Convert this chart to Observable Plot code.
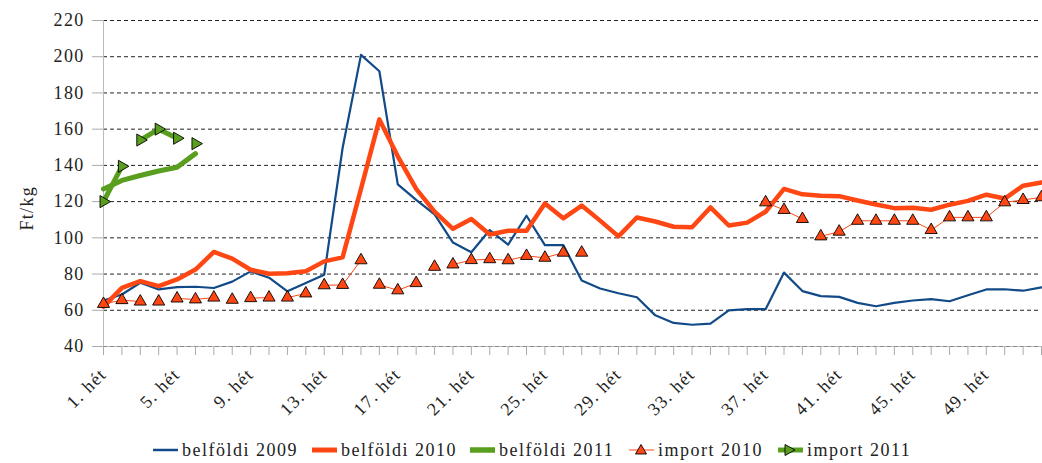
<!DOCTYPE html>
<html>
<head>
<meta charset="utf-8">
<script src="https://cdn.jsdelivr.net/npm/d3@7"></script>
<script src="https://cdn.jsdelivr.net/npm/@observablehq/plot@0.6"></script>
<style>
  body { margin: 0; background: #fff; }
  #chart { width: 1042px; height: 435px; }
  #chart svg, #chart svg text {
    font-family: "Liberation Serif", "Times New Roman", serif !important;
    font-size: 18px !important; letter-spacing: 1.3px;
  }
  #legend {
    position: relative; height: 30px;
    font-family: "Liberation Serif", "Times New Roman", serif; font-size: 18px; letter-spacing: 1.5px; color: #222;
  }
  .item { position: absolute; top: 0; height: 30px; display: flex; align-items: center; white-space: nowrap; }
  .item svg { margin-right: 4px; }
</style>
</head>
<body>
<div id="chart"></div>
<div id="legend"></div>
<script>
// ---- data ----
const weeks = d3.range(1, 53);
const weekLabels = [1, 5, 9, 13, 17, 21, 25, 29, 33, 37, 41, 45, 49];
const yTicks = [40, 60, 80, 100, 120, 140, 160, 180, 200, 220];

const belfoldi2009 = [65.4, 68.7, 75.2, 71.5, 72.8, 73.0, 72.3, 75.8, 81.5, 78.0,
  70.5, 75.0, 79.6, 149.6, 201.0, 192.0, 129.5, 121.0, 113.0, 97.4,
  92.0, 104.3, 96.2, 112.2, 96.0, 96.0, 76.5, 72.0, 69.4, 67.2,
  57.2, 53.0, 52.0, 52.6, 60.0, 60.6, 60.6, 80.8, 70.6, 67.8,
  67.4, 64.1, 62.2, 64.1, 65.4, 66.2, 65.0, 68.3, 71.5, 71.6,
  70.8, 72.6];

const belfoldi2010 = [62.0, 72.4, 76.1, 73.3, 77.0, 82.5, 92.2, 88.5, 82.4, 80.2,
  80.4, 81.5, 87.0, 89.2, 127.0, 165.4, 145.0, 127.0, 114.5, 105.0,
  110.4, 101.8, 103.9, 103.9, 119.0, 110.8, 117.8, 109.5, 100.8, 111.2,
  109.0, 106.1, 105.8, 116.8, 106.8, 108.4, 114.4, 127.0, 124.0, 123.2,
  123.0, 120.6, 118.4, 116.4, 116.6, 115.5, 118.3, 120.4, 123.8, 121.7,
  128.8, 130.6];

const belfoldi2011 = [127.0, 131.7, 134.4, 136.9, 139.0, 146.5];

const import2010 = [63.5, 65.6, 64.8, 64.8, 66.5, 66.0, 67.0, 65.8, 66.7, 67.0,
  67.0, 69.3, 73.8, 74.0, 87.6, 74.1, 71.0, 75.0, 84.0, 85.3,
  87.7, 88.2, 87.6, 90.0, 89.0, 91.8, 91.8, null, null, null,
  null, null, null, null, null, null, 119.6, 115.4, 110.4, 100.8,
  103.4, 109.4, 109.4, 109.4, 109.4, 104.3, 111.3, 111.3, 111.3, 119.6,
  120.9, 122.4];

const import2011 = [120.0, 139.5, 154.0, 160.0, 155.0, 152.0];

// weeks after which the import line segment is not drawn in the reference
const import2010Breaks = [3, 4, 7, 8, 10, 12, 15, 18, 19, 26, 39];
const import2011Breaks = [2, 5];

// ---- styles ----
const BLUE = "#114a87", ORANGE = "#ff4713", GREEN = "#5a9e1f";
const FONT = "Liberation Serif";

const toRows = arr => arr.map((v, i) => ({week: i + 1, value: v})).filter(d => d.value != null);
function segments(rows, breaks) {
  const out = [];
  for (let i = 0; i < rows.length - 1; i++) {
    const a = rows[i], b = rows[i + 1];
    if (b.week === a.week + 1 && !breaks.includes(a.week))
      out.push({x1: a.week, y1: a.value, x2: b.week, y2: b.value});
  }
  return out;
}

const r09 = toRows(belfoldi2009), r10 = toRows(belfoldi2010), r11 = toRows(belfoldi2011);
const ri10 = toRows(import2010), ri11 = toRows(import2011);

const chart = Plot.plot({
  width: 1042, height: 435,
  marginLeft: 103, marginRight: 1, marginTop: 20, marginBottom: 89,
  style: {fontFamily: FONT, fontSize: "18px", color: "#222", background: "white", overflow: "visible"},
  x: {domain: [1, 52], axis: null},
  y: {domain: [40, 220], axis: null},
  marks: [
    Plot.ruleY(yTicks.filter(d => d > 40), {stroke: "#222", strokeDasharray: "4,3", strokeWidth: 1}),
    Plot.ruleY([40], {stroke: "#bbb", strokeWidth: 1}),
    Plot.ruleY([40], {stroke: "#888", strokeDasharray: "4,3", strokeWidth: 1}),
    Plot.axisX({ticks: weeks, tickSize: 9, tickFormat: () => "", stroke: "#aaa"}),
    Plot.axisY({ticks: yTicks, tickSize: 11, tickPadding: 8, stroke: "#aaa", fill: "#222", label: null, fontFamily: FONT, fontSize: 18}),
    Plot.ruleX([1], {stroke: "#bbb"}),
    Plot.line(r09, {x: "week", y: "value", stroke: BLUE, strokeWidth: 2.2}),
    Plot.line(r10, {x: "week", y: "value", stroke: ORANGE, strokeWidth: 4.5}),
    Plot.line(r11, {x: "week", y: "value", stroke: GREEN, strokeWidth: 5}),
    Plot.link(segments(ri10, import2010Breaks), {x1: "x1", y1: "y1", x2: "x2", y2: "y2", stroke: ORANGE, strokeWidth: 1}),
    Plot.dot(ri10, {x: "week", y: "value", symbol: "triangle", r: 4.5, fill: ORANGE, stroke: "#000", strokeWidth: 0.9}),
    Plot.link(segments(ri11, import2011Breaks), {x1: "x1", y1: "y1", x2: "x2", y2: "y2", stroke: GREEN, strokeWidth: 5}),
    Plot.dot(ri11, {x: "week", y: "value", symbol: "triangle", rotate: 90, r: 4.5, fill: GREEN, stroke: "#000", strokeWidth: 0.9}),
    Plot.text(weekLabels, {x: d => d, frameAnchor: "bottom", text: d => `${d}. hét`, rotate: -45, textAnchor: "end", dx: 4, dy: 29, fill: "#222", fontFamily: FONT, fontSize: 18}),
    Plot.text(["Ft/kg"], {frameAnchor: "left", text: d => d, rotate: -90, dx: -76, dy: 47, fill: "#222", fontFamily: FONT, fontSize: 18})
  ]
});
document.getElementById("chart").appendChild(chart);

// ---- legend ----
const legendItems = [
  {label: "belföldi 2009", color: BLUE, width: 2.5, left: 153},
  {label: "belföldi 2010", color: ORANGE, width: 5, left: 312},
  {label: "belföldi 2011", color: GREEN, width: 5.5, left: 470},
  {label: "import 2010", color: ORANGE, width: 1, marker: "up", left: 629},
  {label: "import 2011", color: GREEN, width: 5, marker: "right", left: 778}
];
const legend = document.getElementById("legend");
for (const it of legendItems) {
  const div = document.createElement("div");
  div.className = "item";
  div.style.left = it.left + "px";
  let m = "";
  if (it.marker === "up") m = `<path d="M12,1.5 L17.5,11 L6.5,11 Z" fill="${it.color}" stroke="#000" stroke-width="0.9"/>`;
  if (it.marker === "right") m = `<path d="M7,1.5 L17,7 L7,12.5 Z" fill="${it.color}" stroke="#000" stroke-width="0.9"/>`;
  div.innerHTML = `<svg width="25" height="14"><line x1="0" x2="25" y1="7" y2="7" stroke="${it.color}" stroke-width="${it.width}"/>${m}</svg><span>${it.label}</span>`;
  legend.appendChild(div);
}
</script>
</body>
</html>
